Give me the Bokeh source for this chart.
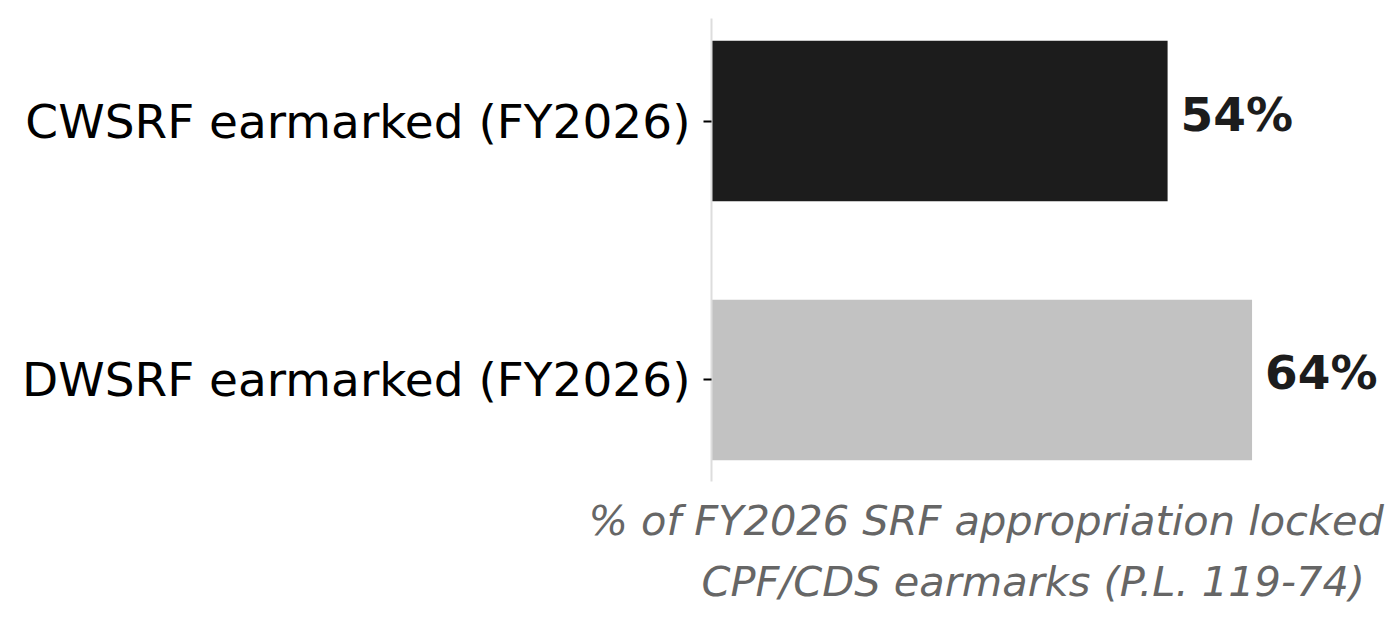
from bokeh.plotting import figure
from bokeh.models import ColumnDataSource, Range1d, FixedTicker, LabelSet, Title
from bokeh.core.properties import value
from bokeh.embed import file_html
from bokeh.resources import INLINE

# ---- data ----
categories = ["CWSRF earmarked (FY2026)", "DWSRF earmarked (FY2026)"]
values = [54, 64]
value_labels = ["54%", "64%"]
bar_colors = ["#1c1c1c", "#c2c2c2"]
xlabel_lines = ["% of FY2026 SRF appropriation locked", "CPF/CDS earmarks (P.L. 119-74)"]

# positions: first category on top
positions = [len(categories) - 1 - i for i in range(len(categories))]

src = ColumnDataSource(dict(cat=categories, val=values, pos=positions,
                            lab=value_labels, color=bar_colors))

p = figure(width=1395, height=619, output_backend="svg", toolbar_location=None,
           x_range=Range1d(0, 79.8), y_range=Range1d(-0.392, 1.396),
           min_border_left=711, min_border_right=10, min_border_top=18,
           min_border_bottom=138)

p.hbar(y="pos", right="val", left=0, height=0.62, color="color", line_color=None, source=src)

labels = LabelSet(x="val", y="pos", text="lab", source=src, x_offset=13, y_offset=7,
                  text_baseline="middle", text_align="left",
                  text_font=value("DejaVu Sans"), text_font_style="bold",
                  text_font_size="47px", text_color="#1c1c1c")
p.add_layout(labels)

p.xaxis.visible = False
p.xgrid.grid_line_color = None
p.ygrid.grid_line_color = None
p.outline_line_color = None

ya = p.yaxis[0]
ya.ticker = FixedTicker(ticks=positions)
ya.major_label_overrides = {pos: cat for pos, cat in zip(positions, categories)}
ya.minor_tick_line_color = None
ya.major_tick_out = 8
ya.major_tick_in = 0
ya.major_tick_line_color = "#000000"
ya.major_tick_line_width = 2
ya.axis_line_color = "#dddddd"
ya.axis_line_width = 2
ya.major_label_standoff = 13
ya.major_label_text_font = "DejaVu Sans"
ya.major_label_text_font_size = "47px"
ya.major_label_text_color = "#000000"

t1 = Title(text=xlabel_lines[0], align="left", offset=-123, standoff=25,
           text_font="DejaVu Sans", text_font_style="italic", text_font_size="41.5px",
           text_color="#666666")
t2 = Title(text=xlabel_lines[1], align="left", offset=-10, standoff=-6,
           text_font="DejaVu Sans", text_font_style="italic", text_font_size="41.5px",
           text_color="#666666")
p.add_layout(t1, "below")
p.add_layout(t2, "below")

open("out.html", "w").write(file_html(p, INLINE))
